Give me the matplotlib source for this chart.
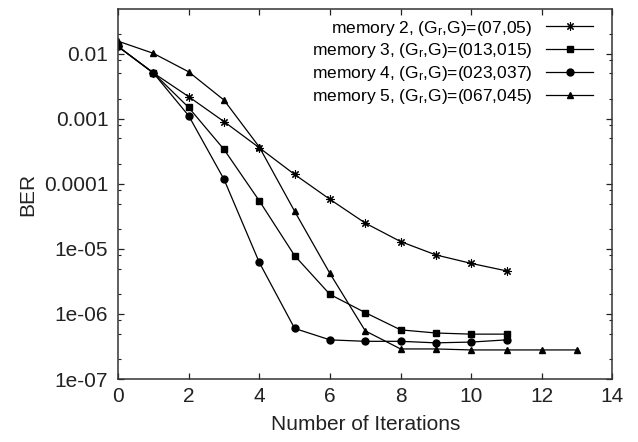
import matplotlib
matplotlib.use("Agg")
import matplotlib.pyplot as plt
from matplotlib.ticker import LogLocator, NullFormatter, FixedLocator

plt.rcParams['font.family'] = ['Liberation Sans', 'DejaVu Sans']
plt.rcParams['mathtext.default'] = 'regular'

# BER per iteration for each code memory
iters_m2 = [0, 1, 2, 3, 4, 5, 6, 7, 8, 9, 10, 11]
ber_m2 = [1.3e-2, 5.1e-3, 2.2e-3, 9.1e-4, 3.6e-4, 1.4e-4, 5.8e-5, 2.5e-5,
          1.3e-5, 8.1e-6, 6.0e-6, 4.6e-6]

iters_m3 = [0, 1, 2, 3, 4, 5, 6, 7, 8, 9, 10, 11]
ber_m3 = [1.3e-2, 5.1e-3, 1.5e-3, 3.4e-4, 5.5e-5, 7.9e-6, 2.0e-6, 1.05e-6,
          5.7e-7, 5.1e-7, 4.9e-7, 4.9e-7]

iters_m4 = [0, 1, 2, 3, 4, 5, 6, 7, 8, 9, 10, 11]
ber_m4 = [1.3e-2, 5.1e-3, 1.12e-3, 1.18e-4, 6.2e-6, 6.0e-7, 4.0e-7, 3.8e-7,
          3.8e-7, 3.6e-7, 3.7e-7, 4.0e-7]

iters_m5 = [0, 1, 2, 3, 4, 5, 6, 7, 8, 9, 10, 11, 12, 13]
ber_m5 = [1.57e-2, 1.02e-2, 5.3e-3, 1.95e-3, 3.7e-4, 3.8e-5, 4.2e-6, 5.5e-7,
          2.9e-7, 2.9e-7, 2.8e-7, 2.8e-7, 2.8e-7, 2.8e-7]

labels = [
    'memory 2, (G$_r$,G)=(07,05)',
    'memory 3, (G$_r$,G)=(013,015)',
    'memory 4, (G$_r$,G)=(023,037)',
    'memory 5, (G$_r$,G)=(067,045)',
]

fig = plt.figure(figsize=(6.38, 4.42), dpi=100)
ax = fig.add_axes([0.185, 0.1425, 0.775, 0.8371])

lw = 0.9
ax.plot(iters_m2, ber_m2, color='black', lw=lw, marker=(8, 2, 0), ms=6,
        mew=0.8, label=labels[0])
ax.plot(iters_m3, ber_m3, color='black', lw=lw, marker='s', ms=5, label=labels[1])
ax.plot(iters_m4, ber_m4, color='black', lw=lw, marker='o', ms=5, label=labels[2])
ax.plot(iters_m5, ber_m5, color='black', lw=lw, marker='^', ms=4.5, label=labels[3])

ax.set_yscale('log')
ax.set_xlim(0, 14)
ax.set_ylim(1e-7, 0.049)
ax.xaxis.set_major_locator(FixedLocator(range(0, 15, 2)))
ax.yaxis.set_minor_locator(LogLocator(base=10, subs=[2, 5, 8], numticks=20))
ax.yaxis.set_minor_formatter(NullFormatter())
ax.set_yticks([1e-7, 1e-6, 1e-5, 1e-4, 1e-3, 1e-2])
ax.set_yticklabels(['1e-07', '1e-06', '1e-05', '0.0001', '0.001', '0.01'])

ax.tick_params(which='both', direction='in', top=True, right=True, labelsize=15,
               colors='#222222')
ax.tick_params(which='major', length=4.5, width=0.9)
ax.tick_params(which='minor', length=2.2, width=0.8)
ax.tick_params(axis='x', pad=6)
ax.tick_params(axis='y', pad=7)
for s in ax.spines.values():
    s.set_linewidth(1.1)
    s.set_color('#333333')

ax.set_xlabel('Number of Iterations', fontsize=15, labelpad=6, color='#222222')
ax.set_ylabel('BER', fontsize=15, labelpad=5, color='#222222')

ax.legend(loc='upper right', frameon=False, markerfirst=False, fontsize=12.5,
          handlelength=2.7, handletextpad=0.8, labelspacing=0.22,
          borderaxespad=0.0, bbox_to_anchor=(0.975, 0.993))

fig.savefig('out.png', dpi=100)
